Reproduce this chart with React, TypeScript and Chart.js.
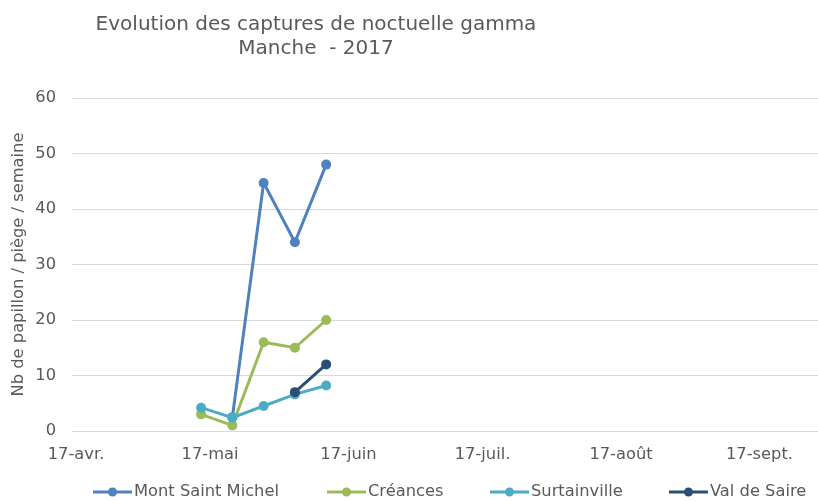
import React, { useEffect, useRef } from 'react';
import { Chart, registerables } from 'chart.js';

Chart.register(...registerables);

// ---- Data ----
const sampleDates = ['2017-05-15', '2017-05-22', '2017-05-29', '2017-06-05', '2017-06-12'];
const montSaintMichel: (number | null)[] = [null, 2.5, 44.7, 34, 48];
const creances: (number | null)[] = [3, 1, 16, 15, 20];
const surtainville: (number | null)[] = [4.2, 2.4, 4.5, 6.6, 8.2];
const valDeSaire: (number | null)[] = [null, null, null, 7, 12];
const seriesNames = ['Mont Saint Michel', 'Créances', 'Surtainville', 'Val de Saire'];
const seriesColors = ['#4f81bd', '#9bbb59', '#4bacc6', '#2c4d75'];
const tickDates = ['2017-04-17', '2017-05-17', '2017-06-17', '2017-07-17', '2017-08-17', '2017-09-17'];
const tickLabels = ['17-avr.', '17-mai', '17-juin', '17-juil.', '17-août', '17-sept.'];
const titleLines = ['Evolution des captures de noctuelle gamma', 'Manche  - 2017'];
const yAxisTitle = 'Nb de papillon / piège / semaine';

const FONT = '"DejaVu Sans", Verdana, sans-serif';
const TEXT = '#595959';
const FS = 16.3;

function dayNum(s: string): number {
  const [y, m, d] = s.split('-').map(Number);
  return (Date.UTC(y, m - 1, d) - Date.UTC(y, 0, 0)) / 86400000;
}

const toPoints = (vals: (number | null)[]) =>
  sampleDates.map((d, i) => ({ x: dayNum(d), y: vals[i] }));

const titlePlugin = {
  id: 'customTitle',
  afterDraw(chart: any) {
    const ctx = chart.ctx;
    ctx.save();
    ctx.fillStyle = TEXT;
    ctx.font = `20px ${FONT}`;
    ctx.textAlign = 'center';
    ctx.textBaseline = 'middle';
    ctx.fillText(titleLines[0], 316, 25);
    ctx.fillText(titleLines[1], 316, 49);
    ctx.restore();
  },
};

const legendStarts = [93, 327, 490, 669];
const legendPlugin = {
  id: 'customLegend',
  afterDraw(chart: any) {
    const ctx = chart.ctx;
    const y = 492;
    ctx.save();
    ctx.font = `${FS}px ${FONT}`;
    ctx.textBaseline = 'middle';
    ctx.textAlign = 'left';
    seriesNames.forEach((name, i) => {
      const x0 = legendStarts[i];
      const x1 = x0 + 39;
      ctx.strokeStyle = seriesColors[i];
      ctx.lineWidth = 3;
      ctx.beginPath();
      ctx.moveTo(x0, y);
      ctx.lineTo(x1, y);
      ctx.stroke();
      ctx.fillStyle = seriesColors[i];
      ctx.beginPath();
      ctx.arc((x0 + x1) / 2, y, 4.5, 0, Math.PI * 2);
      ctx.fill();
      ctx.fillStyle = TEXT;
      ctx.fillText(name, x1 + 2, y);
    });
    ctx.restore();
  },
};

export default function App() {
  const canvasRef = useRef<HTMLCanvasElement | null>(null);

  useEffect(() => {
    document.body.style.margin = '0';
    const canvas = canvasRef.current;
    if (!canvas) return;
    const seriesValues = [montSaintMichel, creances, surtainville, valDeSaire];
    const xMin = dayNum(tickDates[0]) - 0.9;
    const chart = new Chart(canvas, {
      type: 'line',
      data: {
        datasets: seriesNames.map((name, i) => ({
          label: name,
          data: toPoints(seriesValues[i]),
          borderColor: seriesColors[i],
          backgroundColor: seriesColors[i],
          pointBackgroundColor: seriesColors[i],
          pointBorderColor: seriesColors[i],
          borderWidth: 3,
          pointRadius: 5,
          pointBorderWidth: 0,
          tension: 0,
          spanGaps: false,
          order: seriesNames.length - i,
        })),
      },
      options: {
        animation: false,
        responsive: false,
        maintainAspectRatio: false,
        layout: { autoPadding: false, padding: { top: 98, left: 0, right: 0, bottom: 0 } },
        plugins: {
          legend: { display: false },
          title: { display: false },
          tooltip: { enabled: false },
        },
        scales: {
          x: {
            type: 'linear',
            min: xMin,
            max: xMin + 167,
            grid: { display: false, drawTicks: false },
            border: { display: false },
            afterBuildTicks: (scale: any) => {
              scale.ticks = tickDates.map((d) => ({ value: dayNum(d) }));
            },
            afterFit: (scale: any) => {
              scale.height = 70;
              scale.paddingLeft = 0;
              scale.paddingRight = 0;
            },
            ticks: {
              autoSkip: false,
              maxRotation: 0,
              padding: 14,
              color: TEXT,
              font: { family: FONT, size: FS },
              callback: (_v: any, idx: number) => tickLabels[idx],
            },
          },
          y: {
            type: 'linear',
            min: 0,
            max: 60,
            grid: { color: '#d9d9d9', lineWidth: 1, drawTicks: false },
            border: { display: false },
            afterFit: (scale: any) => {
              scale.width = 72;
              scale.paddingTop = 0;
              scale.paddingBottom = 0;
            },
            ticks: {
              stepSize: 10,
              padding: 16,
              color: TEXT,
              font: { family: FONT, size: FS },
            },
            title: {
              display: true,
              text: yAxisTitle,
              color: TEXT,
              font: { family: FONT, size: FS },
              padding: { top: 8.5, bottom: 0 },
            },
          },
        },
      },
      plugins: [titlePlugin, legendPlugin],
    } as any);
    return () => chart.destroy();
  }, []);

  return (
    <div style={{ width: 818, height: 501, position: 'relative', background: '#fff' }}>
      <canvas ref={canvasRef} width={818} height={501} style={{ width: 818, height: 501, display: 'block' }} />
    </div>
  );
}
